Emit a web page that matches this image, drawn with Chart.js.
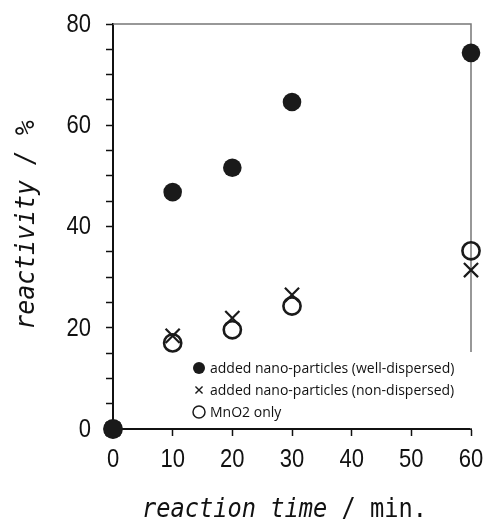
<!DOCTYPE html>
<html>
<head>
<meta charset="utf-8">
<script src="https://cdn.jsdelivr.net/npm/chart.js@4"></script>
<style>
  html, body { margin: 0; padding: 0; background: #fff; }
  #wrap { width: 485px; height: 522px; }
</style>
</head>
<body>
<div id="wrap"><canvas id="chart" width="485" height="522"></canvas></div>
<script>
  // reaction time (min.)
  const times = [0, 10, 20, 30, 60];
  // reactivity (%) for each series
  const wellDispersed = [0, 46.8, 51.6, 64.6, 74.3];
  const nonDispersed = [0, 18.4, 21.9, 26.5, 31.4];
  const mno2Only = [0, 17.0, 19.6, 24.3, 35.2];
  const seriesLabels = [
    'added nano-particles (well-dispersed)',
    'added nano-particles (non-dispersed)',
    'MnO2 only'
  ];
  const xTicks = [0, 10, 20, 30, 40, 50, 60];
  const yTicks = [0, 20, 40, 60, 80];

  function toPoints(values) {
    return times.map((t, i) => ({ x: t, y: values[i] }));
  }

  // tick labels in a narrowed face (no condensed font installed)
  function drawNarrow(ctx, text, x, y, align) {
    ctx.save();
    ctx.translate(x, y);
    ctx.scale(0.88, 1);
    ctx.textAlign = align;
    ctx.fillText(text, 0, 0);
    ctx.restore();
  }

  // frame, legend, tick labels and axis titles
  const extras = {
    id: 'extras',
    beforeDatasetsDraw(chart) {
      const { ctx, chartArea: a } = chart;
      ctx.save();
      ctx.strokeStyle = '#777';
      ctx.lineWidth = 1.5;
      ctx.beginPath();
      ctx.moveTo(a.left, a.top);
      ctx.lineTo(a.right, a.top);
      ctx.lineTo(a.right, a.bottom);
      ctx.stroke();
      // legend box (white, hides part of the right frame line)
      ctx.fillStyle = '#fff';
      ctx.fillRect(188, 352, a.right + 2 - 188, a.bottom - 1 - 352);
      ctx.restore();
    },
    afterDatasetsDraw(chart) {
      const { ctx } = chart;
      ctx.save();
      // legend entries
      const rows = [368, 390, 412];
      chart.data.datasets.forEach((ds, i) => {
        const y = rows[i];
        ctx.fillStyle = ds.legendFill;
        ctx.strokeStyle = ds.borderColor;
        ctx.lineWidth = ds.legendBorder;
        Chart.helpers.drawPoint(ctx, {
          pointStyle: ds.pointStyle,
          radius: ds.legendRadius,
          borderWidth: ds.legendBorder
        }, 199, y);
        ctx.fillStyle = '#111';
        ctx.font = "14px 'Open Sans', 'Noto Sans', sans-serif";
        ctx.textBaseline = 'middle';
        ctx.textAlign = 'left';
        ctx.fillText(ds.label, 210, y + 1);
      });

      // tick labels
      const sx = chart.scales.x, sy = chart.scales.y;
      ctx.fillStyle = '#111';
      ctx.font = "25px 'Liberation Sans', Arial, sans-serif";
      ctx.textBaseline = 'middle';
      sx.ticks.forEach(t => {
        drawNarrow(ctx, String(t.value), sx.getPixelForValue(t.value), 460, 'center');
      });
      sy.ticks.forEach(t => {
        if (yTicks.includes(t.value)) {
          drawNarrow(ctx, String(t.value), 91, sy.getPixelForValue(t.value) + 1, 'right');
        }
      });

      // axis titles (monospace, slightly narrowed)
      const mono = "'DejaVu Sans Mono', monospace";
      ctx.fillStyle = '#111';
      ctx.textBaseline = 'alphabetic';
      ctx.textAlign = 'left';
      const xa = 'reaction time', xb = ' / min.';
      ctx.save();
      ctx.translate(284.5, 517);
      ctx.scale(0.91, 1);
      ctx.font = 'italic 26px ' + mono;
      const wa = ctx.measureText(xa).width;
      ctx.font = '26px ' + mono;
      const wb = ctx.measureText(xb).width;
      const x0 = -(wa + wb) / 2;
      ctx.font = 'italic 26px ' + mono;
      ctx.fillText(xa, x0, 0);
      ctx.font = '26px ' + mono;
      ctx.fillText(xb, x0 + wa, 0);
      ctx.restore();

      ctx.translate(33.5, 225);
      ctx.rotate(-Math.PI / 2);
      ctx.scale(0.92, 1);
      ctx.textAlign = 'center';
      ctx.font = 'italic 27px ' + mono;
      ctx.fillText('reactivity / %', 0, 0);
      ctx.restore();
    }
  };

  new Chart(document.getElementById('chart'), {
    type: 'scatter',
    data: {
      datasets: [
        {
          label: seriesLabels[0],
          data: toPoints(wellDispersed),
          pointStyle: 'circle',
          pointRadius: 9.3,
          backgroundColor: '#1a1a1a',
          borderColor: '#1a1a1a',
          borderWidth: 0,
          legendFill: '#1a1a1a',
          legendRadius: 6,
          legendBorder: 0,
          clip: false,
          order: 0
        },
        {
          label: seriesLabels[1],
          data: toPoints(nonDispersed),
          pointStyle: 'crossRot',
          pointRadius: 10,
          backgroundColor: '#1a1a1a',
          borderColor: '#1a1a1a',
          borderWidth: 2.2,
          legendFill: '#1a1a1a',
          legendRadius: 5,
          legendBorder: 1.4,
          clip: false,
          order: 1
        },
        {
          label: seriesLabels[2],
          data: toPoints(mno2Only),
          pointStyle: 'circle',
          pointRadius: 8.6,
          backgroundColor: 'rgba(0,0,0,0)',
          borderColor: '#1a1a1a',
          borderWidth: 2.6,
          legendFill: '#fff',
          legendRadius: 6,
          legendBorder: 1.5,
          clip: false,
          order: 2
        }
      ]
    },
    options: {
      responsive: false,
      animation: false,
      layout: { padding: { left: 0, top: 24, right: 14, bottom: 0 } },
      plugins: {
        legend: { display: false },
        tooltip: { enabled: false }
      },
      scales: {
        x: {
          type: 'linear',
          min: 0,
          max: 60,
          afterBuildTicks: (s) => { s.ticks = xTicks.map(v => ({ value: v })); },
          afterFit: (s) => { s.height = 93; },
          ticks: { color: 'rgba(0,0,0,0)', padding: 6, maxRotation: 0 },
          grid: { display: true, drawOnChartArea: false, drawTicks: true, tickLength: 7, tickColor: '#111', tickWidth: 1.5 },
          border: { display: true, color: '#111', width: 2 }
        },
        y: {
          min: 0,
          max: 80,
          ticks: { stepSize: 5, color: 'rgba(0,0,0,0)', padding: 15 },
          afterFit: (s) => { s.width = 113; },
          grid: { display: true, drawOnChartArea: false, drawTicks: true, tickLength: 7, tickColor: '#111', tickWidth: 1.5 },
          border: { display: true, color: '#111', width: 2 }
        }
      }
    },
    plugins: [extras]
  });
</script>
</body>
</html>
